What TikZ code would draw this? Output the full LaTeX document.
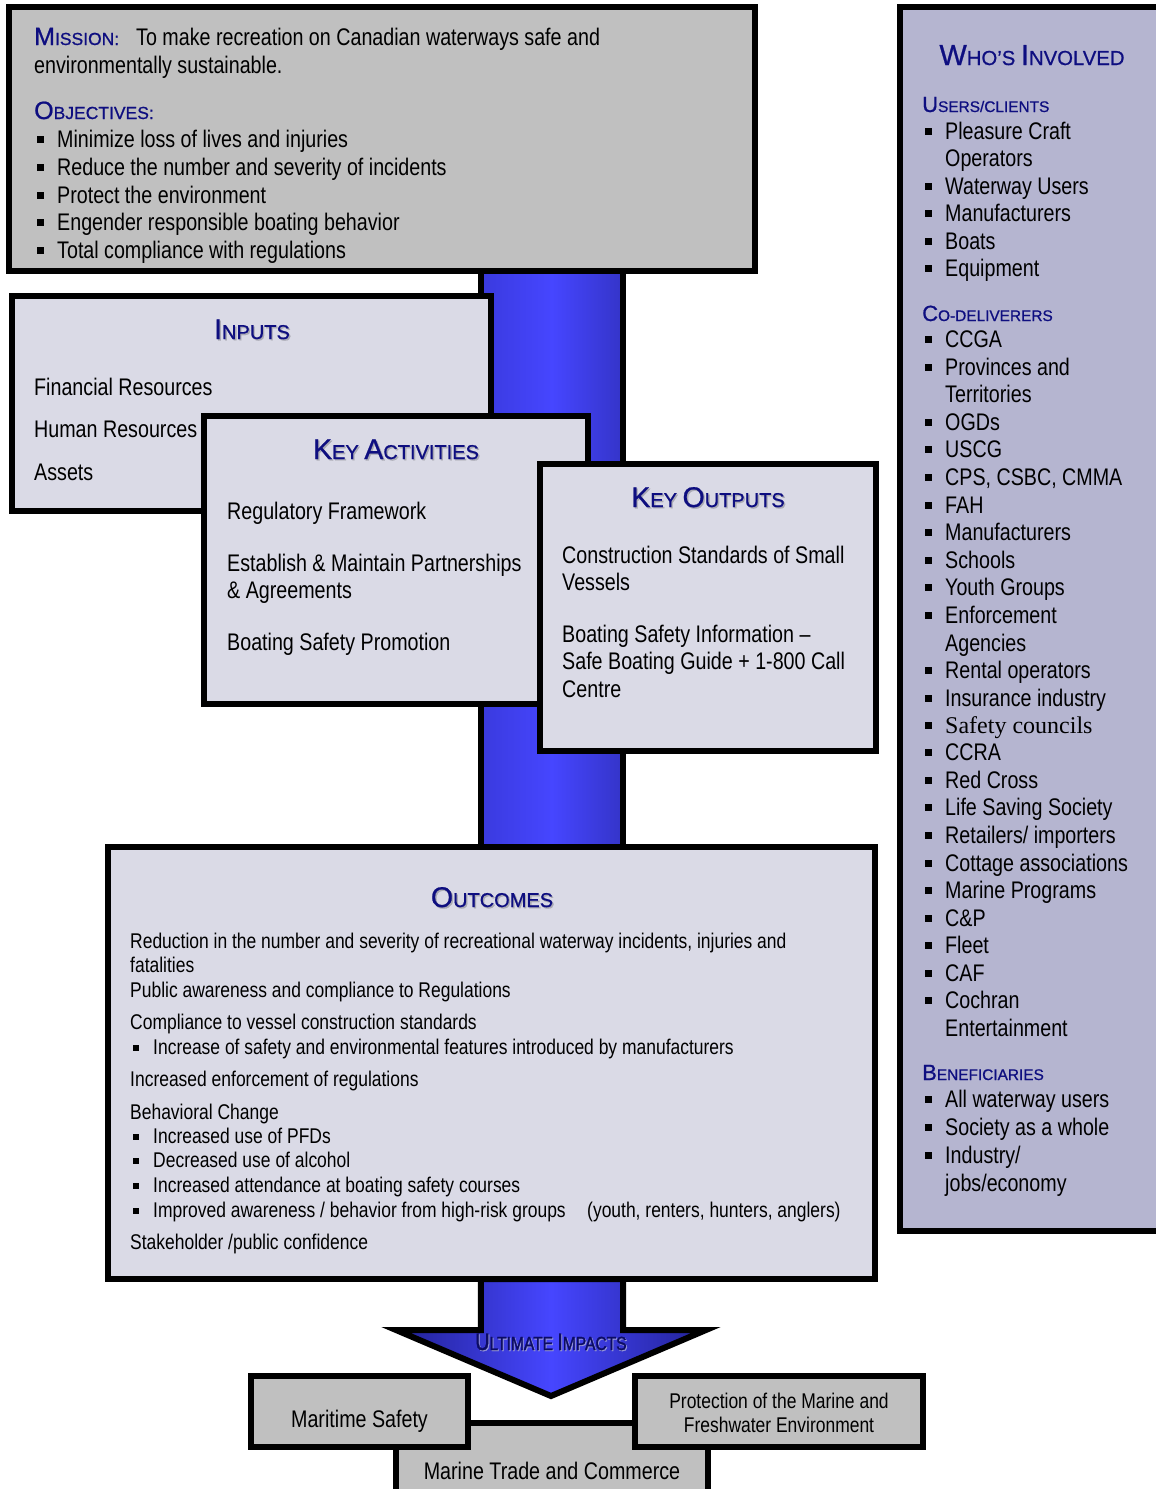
\documentclass[tikz,border=0pt]{standalone}
\usepackage{fontspec}
\setmainfont{Liberation Sans}
\newfontfamily\nar{Liberation Sans}[FakeStretch=0.82]
\newfontfamily\narb{Liberation Sans}[FakeStretch=0.82,FakeBold=1.5]
\newfontfamily\hdf{Liberation Sans}[FakeBold=0.8]
\newfontfamily\tms{Liberation Serif}
\newcommand\fs[1]{\fontsize{#1}{#1}\selectfont}
\newcommand\sck[4]{{\hdf\fontsize{#1}{#1}\selectfont #3\fontsize{#2}{#2}\selectfont #4}}
\definecolor{hdr}{RGB}{14,14,128}
\definecolor{shgray}{RGB}{170,170,180}
\definecolor{boxgray}{RGB}{192,192,192}
\definecolor{boxlight}{RGB}{218,218,230}
\definecolor{panel}{RGB}{181,181,208}
\definecolor{barmid}{RGB}{70,70,255}
\definecolor{barL}{RGB}{58,58,222}
\definecolor{barR}{RGB}{52,52,200}
\definecolor{headedge}{RGB}{34,34,150}
\definecolor{uitext}{RGB}{12,12,100}
\definecolor{uishadow}{RGB}{150,150,215}
\newcommand\shd[1]{\makebox[0pt][l]{\hspace{1.4pt}\raisebox{-1.4pt}{\color{shgray}#1}}#1}
\newcommand\shw[1]{\makebox[0pt][l]{\hspace{1pt}\raisebox{-1pt}{\color{uishadow}#1}}#1}
\newcommand\bl{\llap{\rule[4pt]{7pt}{7pt}\hspace{13pt}}}
\newcommand\blo{\llap{\rule[3.5pt]{6pt}{6pt}\hspace{14pt}}}
\tikzset{
  boxg/.style={draw=black, line width=5.5pt, fill=boxgray, inner sep=0pt, rectangle},
  boxl/.style={boxg, fill=boxlight},
  boxp/.style={boxg, fill=panel},
  txt/.style={anchor=base west, inner sep=0pt, font=\nar\fs{24}},
  otx/.style={anchor=base west, inner sep=0pt, font=\nar\fs{21.3}},
  ctx/.style={anchor=base, inner sep=0pt, font=\nar\fs{24}},
  hd/.style={anchor=base, inner sep=0pt, text=hdr},
  sub/.style={anchor=base west, inner sep=0pt, text=hdr},
}
\begin{document}
\begin{tikzpicture}[x=1pt,y=-1pt]
\useasboundingbox (0,0) rectangle (1156,1489);
\fill[white] (0,0) rectangle (1156,1489);
\clip (0,0) rectangle (1156,1489);

% central blue bar
\draw[line width=5.5pt, left color=barL, right color=barR, middle color=barmid]
  (480.8,271) rectangle (623.2,850);
% arrow with head
\draw[line width=6pt, line join=miter, left color=headedge, right color=headedge, middle color=barmid]
  (480.8,1279) -- (480.8,1330) -- (396,1330) -- (551,1396) -- (706,1330) -- (623.2,1330) -- (623.2,1279) -- cycle;

% Mission box
\node[boxg, minimum width=746, minimum height=264] (mission) at (382,139) {};
\node[txt] (mis1) at (34,45) {\textcolor{hdr}{\sck{25}{17.5}{M}{ISSION:}}\hspace{17pt}To make recreation on Canadian waterways safe and};
\node[txt] (mis2) at (34,73) {environmentally sustainable.};
\node[sub] (objh) at (34,119) {\sck{25}{17.5}{O}{BJECTIVES:}};
\foreach \yy/\tt [count=\i] in {147/Minimize loss of lives and injuries, 175/Reduce the number and severity of incidents, 203/Protect the environment, 230/Engender responsible boating behavior, 258/Total compliance with regulations}
  \node[txt] (obj\i) at (57,\yy) {\bl\tt};

% Inputs
\node[boxl, minimum width=479, minimum height=215] (inputs) at (251.5,403.5) {};
\node[hd] (inph) at (252,339) {\shd{\sck{28.5}{20}{I}{NPUTS}}};
\foreach \yy/\tt [count=\i] in {395/Financial Resources, 437/Human Resources, 480/Assets}
  \node[txt] (inp\i) at (34,\yy) {\tt};

% Key activities
\node[boxl, minimum width=384, minimum height=288] (activ) at (396,560) {};
\node[hd] (acth) at (396,459) {\shd{\sck{28.5}{20}{K}{EY }\sck{28.5}{20}{A}{CTIVITIES}}};
\foreach \yy/\tt [count=\i] in {519/Regulatory Framework, 571/Establish \& Maintain Partnerships, 598/\& Agreements, 650/Boating Safety Promotion}
  \node[txt] (act\i) at (227,\yy) {\tt};

% Key outputs
\node[boxl, minimum width=336, minimum height=287] (outputs) at (708,607.5) {};
\node[hd] (outh) at (708,507) {\shd{\sck{28.5}{20}{K}{EY }\sck{28.5}{20}{O}{UTPUTS}}};
\foreach \yy/\tt [count=\i] in {563/Construction Standards of Small, 590/Vessels, 642/Boating Safety Information –, 669/Safe Boating Guide + 1-800 Call, 697/Centre}
  \node[txt] (outp\i) at (562,\yy) {\tt};

% Outcomes
\node[boxl, minimum width=767, minimum height=432] (outcomes) at (491.5,1063) {};
\node[hd] (ocmh) at (492,907) {\shd{\sck{28.5}{20}{O}{UTCOMES}}};
\foreach \xx/\yy/\tt [count=\i] in {130/948/{Reduction in the number and severity of recreational waterway incidents, injuries and}, 130/972/fatalities, 130/997/Public awareness and compliance to Regulations, 130/1029/Compliance to vessel construction standards, 153/1054/\blo Increase of safety and environmental features introduced by manufacturers, 130/1086/Increased enforcement of regulations, 130/1119/Behavioral Change, 153/1143/\blo Increased use of PFDs, 153/1167/\blo Decreased use of alcohol, 153/1192/\blo Increased attendance at boating safety courses, 153/1217/{\blo Improved awareness / behavior from high-risk groups}, 130/1249/{Stakeholder /public confidence}}
  \node[otx] (ocm\i) at (\xx,\yy) {\tt};
\node[otx] (ocmx) at (587,1217) {(youth, renters, hunters, anglers)};

% Who's involved panel
\node[boxp, minimum width=280, minimum height=1224] (panel) at (1040,619) {};
\node[hd] (whoh) at (1032,65) {\sck{29}{20.3}{W}{HO’S }\sck{29}{20.3}{I}{NVOLVED}};
\node[sub] (usrh) at (922,112) {\sck{22}{15.4}{U}{SERS/CLIENTS}};
\node[sub] (codh) at (922,321) {\sck{22}{15.4}{C}{O-DELIVERERS}};
\node[sub] (benh) at (922,1080) {\sck{22}{15.4}{B}{ENEFICIARIES}};
\foreach \yy/\tt [count=\i] in {139/\bl Pleasure Craft, 166/Operators, 194/\bl Waterway Users, 221/\bl Manufacturers, 249/\bl Boats, 276/\bl Equipment,
  347/\bl CCGA, 375/\bl Provinces and, 402/Territories, 430/\bl OGDs, 457/\bl USCG, 485/{\bl CPS, CSBC, CMMA}, 513/\bl FAH, 540/\bl Manufacturers, 568/\bl Schools, 595/\bl Youth Groups, 623/\bl Enforcement, 651/Agencies, 678/\bl Rental operators, 706/\bl Insurance industry, 733/{\bl{\tms\fs{24}Safety councils}}, 760/\bl CCRA, 788/\bl Red Cross, 815/\bl Life Saving Society, 843/{\bl Retailers/ importers}, 871/\bl Cottage associations, 898/\bl Marine Programs, 926/\bl C\&P, 953/\bl Fleet, 981/\bl CAF, 1008/\bl Cochran, 1036/Entertainment,
  1107/\bl All waterway users, 1135/\bl Society as a whole, 1163/{\bl Industry/}, 1191/{jobs/economy}}
  \node[txt] (who\i) at (945,\yy) {\tt};

% Ultimate impacts label
\node[anchor=base, inner sep=0pt, text=uitext, font=\narb] (uimp) at (551,1350) {\shw{\fontsize{24}{24}\selectfont U\fontsize{19}{19}\selectfont LTIMATE \fontsize{24}{24}\selectfont I\fontsize{19}{19}\selectfont MPACTS}};

% Ultimate impact boxes
\node[boxg, minimum width=312, minimum height=87] (trade) at (552,1466.5) {};
\node[boxg, minimum width=217, minimum height=71] (safety) at (359.5,1411.5) {};
\node[boxg, minimum width=288, minimum height=71] (protect) at (779,1411.5) {};
\node[ctx] (safetyt) at (359.5,1427) {Maritime Safety};
\node[ctx, font=\nar\fs{21.3}] (protectt1) at (779,1408) {Protection of the Marine and};
\node[ctx, font=\nar\fs{21.3}] (protectt2) at (779,1432) {Freshwater Environment};
\node[ctx] (tradet) at (552,1479) {Marine Trade and Commerce};
\end{tikzpicture}
\end{document}
